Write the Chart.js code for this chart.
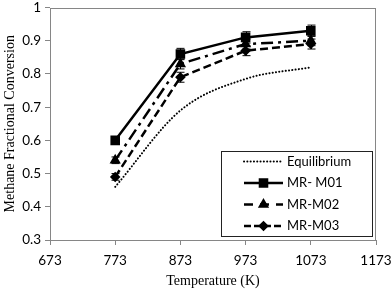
<!DOCTYPE html>
<html><head><meta charset="utf-8">
<script src="https://cdn.jsdelivr.net/npm/chart.js@4/dist/chart.umd.min.js"></script>
<style>html,body{margin:0;padding:0;background:#fff}#wrap{width:392px;height:290px;position:relative}</style>
</head><body><div id="wrap"><canvas id="c"></canvas></div>
<script>
const temperatures = [773, 873, 973, 1073];
const xTicks = [673, 773, 873, 973, 1073, 1173];
const yTicks = [0.3, 0.4, 0.5, 0.6, 0.7, 0.8, 0.9, 1];
const seriesNames = ['Equilibrium', 'MR- M01', 'MR-M02', 'MR-M03'];
const equilibrium = [0.46, 0.69, 0.785, 0.82];
const mrM01 = [0.60, 0.86, 0.91, 0.93];
const mrM02 = [0.54, 0.83, 0.89, 0.90];
const mrM03 = [0.49, 0.79, 0.87, 0.89];
const errM01 = [0.00, 0.017, 0.017, 0.017];
const errM02 = [0.010, 0.015, 0.015, 0.015];
const errM03 = [0.010, 0.015, 0.015, 0.015];
const xTitle = 'Temperature (K)';
const yTitle = 'Methane Fractional Conversion';

const GRAY = '#868686';
const TICK_FONT = {family: 'Lato', size: 13.5};
const TITLE_FONT = {family: 'Liberation Serif', size: 14};

function pts(vals) { return temperatures.map((t, i) => ({x: t, y: vals[i]})); }

const datasets = [
  {label: seriesNames[0], data: pts(equilibrium), borderColor: '#000', backgroundColor: '#000',
   borderWidth: 2, borderDash: [0.1, 3.2], borderCapStyle: 'round', pointRadius: 0,
   cubicInterpolationMode: 'monotone'},
  {label: seriesNames[1], data: pts(mrM01), borderColor: '#000', backgroundColor: '#000',
   borderWidth: 2.5, pointStyle: 'rect', pointRadius: 5, err: errM01, legendDash: []},
  {label: seriesNames[2], data: pts(mrM02), borderColor: '#000', backgroundColor: '#000',
   borderWidth: 2.5, borderDash: [12, 5, 3, 5], pointStyle: 'triangle', pointRadius: 4, err: errM02, legendDash: [9, 7]},
  {label: seriesNames[3], data: pts(mrM03), borderColor: '#000', backgroundColor: '#000',
   borderWidth: 2.5, borderDash: [8, 4], pointStyle: 'rectRot', pointRadius: 3.5, err: errM03, legendDash: [7, 3]}
];

const framePlugin = {
  id: 'frame',
  beforeDatasetsDraw(chart) {
    const {ctx, chartArea: a} = chart;
    ctx.save();
    ctx.strokeStyle = GRAY; ctx.lineWidth = 1;
    ctx.strokeRect(Math.round(a.left) + 0.5, Math.round(a.top) + 0.5, Math.round(a.right - a.left) - 1, Math.round(a.bottom - a.top) - 1);
    ctx.restore();
  },
  afterDatasetsDraw(chart) {
    const {ctx, scales: {x, y}} = chart;
    ctx.save();
    ctx.strokeStyle = '#000'; ctx.lineWidth = 1; ctx.setLineDash([]);
    chart.data.datasets.forEach(ds => {
      if (!ds.err) return;
      ds.data.forEach((p, i) => {
        const e = ds.err[i]; if (!e) return;
        const px = Math.round(x.getPixelForValue(p.x)) + 0.5;
        const y1 = y.getPixelForValue(p.y + e), y2 = y.getPixelForValue(p.y - e);
        ctx.beginPath();
        ctx.moveTo(px, y1); ctx.lineTo(px, y2);
        ctx.moveTo(px - 4, y1); ctx.lineTo(px + 4, y1);
        ctx.moveTo(px - 4, y2); ctx.lineTo(px + 4, y2);
        ctx.stroke();
      });
    });
    ctx.restore();
  },
  afterDraw(chart) {
    const {ctx, chartArea: a} = chart;
    const right = a.right - 4, bottom = a.bottom - 4;
    const w = 151, h = 85;
    const left = right - w, top = bottom - h;
    ctx.save();
    ctx.fillStyle = '#fff';
    ctx.fillRect(left, top, w, h);
    ctx.strokeStyle = '#222'; ctx.lineWidth = 1;
    ctx.strokeRect(Math.round(left) + 0.5, Math.round(top) + 0.5, w, h);
    const x0 = left + 23, x1 = left + 62, tx = left + 66;
    chart.data.datasets.forEach((ds, i) => {
      const cy = top + 10.5 + i * 21.5;
      ctx.strokeStyle = '#000';
      ctx.lineWidth = ds.borderWidth;
      ctx.lineCap = ds.borderCapStyle || 'butt';
      ctx.setLineDash(ds.legendDash || ds.borderDash || []);
      ctx.beginPath(); ctx.moveTo(x0, cy); ctx.lineTo(x1, cy); ctx.stroke();
      ctx.setLineDash([]);
      if (ds.pointRadius) {
        Chart.helpers.drawPoint(ctx, {pointStyle: ds.pointStyle, radius: ds.pointRadius, borderWidth: 1}, (x0 + x1) / 2, cy);
        ctx.fillStyle = '#000'; ctx.fill();
      }
      ctx.fillStyle = '#000';
      ctx.font = '13px Lato';
      ctx.textBaseline = 'middle'; ctx.textAlign = 'left';
      ctx.fillText(ds.label, tx, cy);
    });
    ctx.restore();
  }
};

new Chart(document.getElementById('c'), {
  type: 'line',
  data: {datasets},
  plugins: [framePlugin],
  options: {
    responsive: true, maintainAspectRatio: false, animation: false,
    layout: {padding: {top: 5, right: 16, bottom: 0, left: 0}},
    plugins: {legend: {display: false}, tooltip: {enabled: false}},
    elements: {line: {tension: 0, fill: false}, point: {borderColor: '#000', backgroundColor: '#000', borderWidth: 1}},
    scales: {
      x: {
        type: 'linear', min: 673, max: 1173,
        afterBuildTicks: s => { s.ticks = xTicks.map(v => ({value: v})); },
        afterFit: s => { s.height = 50; s.paddingLeft = 0; s.paddingRight = 0; },
        border: {display: false},
        grid: {drawOnChartArea: false, drawTicks: true, tickLength: 5, color: GRAY},
        ticks: {font: TICK_FONT, color: '#000', padding: 8, maxRotation: 0, callback: v => String(v)},
        title: {display: true, text: xTitle, font: TITLE_FONT, color: '#000', padding: {top: 0, bottom: 0}}
      },
      y: {
        type: 'linear', min: 0.3, max: 1,
        afterBuildTicks: s => { s.ticks = yTicks.map(v => ({value: v})); },
        afterFit: s => { s.width = 50; s.paddingTop = 0; s.paddingBottom = 0; },
        border: {display: false},
        grid: {drawOnChartArea: false, drawTicks: true, tickLength: 5, color: GRAY},
        ticks: {font: TICK_FONT, color: '#000', padding: 4, callback: v => String(v)},
        title: {display: true, text: yTitle, font: TITLE_FONT, color: '#000', padding: {top: 2, bottom: 0}}
      }
    }
  }
});
</script></body></html>
